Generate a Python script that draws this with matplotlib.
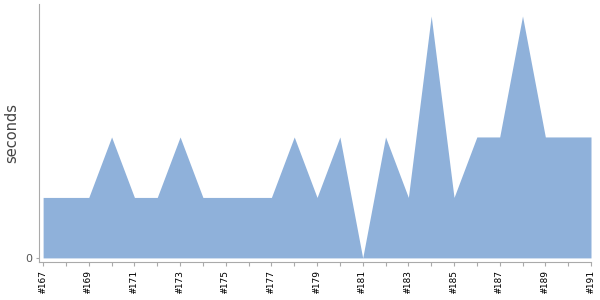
import matplotlib
matplotlib.use("Agg")
import matplotlib.pyplot as plt

builds = list(range(167, 192))
seconds = [1, 1, 1, 2, 1, 1, 2, 1, 1, 1, 1, 2, 1, 2, 0, 2, 1, 4, 1, 2, 2, 4, 2, 2, 2]
labels = ["#%d" % b for b in builds]

fig = plt.figure(figsize=(6, 3), dpi=100)
ax = fig.add_axes([0.065, 0.127, 0.92, 0.86])

ax.fill_between(builds, seconds, 0, color="#8fb1da", linewidth=0)

ax.set_xlim(builds[0] - 0.18, builds[-1])
ax.set_ylim(-0.066, 4.2)

ax.set_xticks(builds)
ax.set_xticklabels([l if i % 2 == 0 else "" for i, l in enumerate(labels)],
                   rotation=90, family="DejaVu Sans Mono", fontsize=6.8)
ax.set_yticks([0])
ax.set_yticklabels(["0"], fontsize=8, color="#555555")
ax.tick_params(axis="x", length=3, color="#aaaaaa", pad=3)
ax.tick_params(axis="y", length=2, color="#aaaaaa", pad=3)

for s in ["top", "right"]:
    ax.spines[s].set_visible(False)
for s in ["left", "bottom"]:
    ax.spines[s].set_color("#aaaaaa")
    ax.spines[s].set_linewidth(0.8)

ax.set_ylabel("seconds", fontsize=10.5, color="#444444", labelpad=4)

fig.savefig("out.png", dpi=100)
